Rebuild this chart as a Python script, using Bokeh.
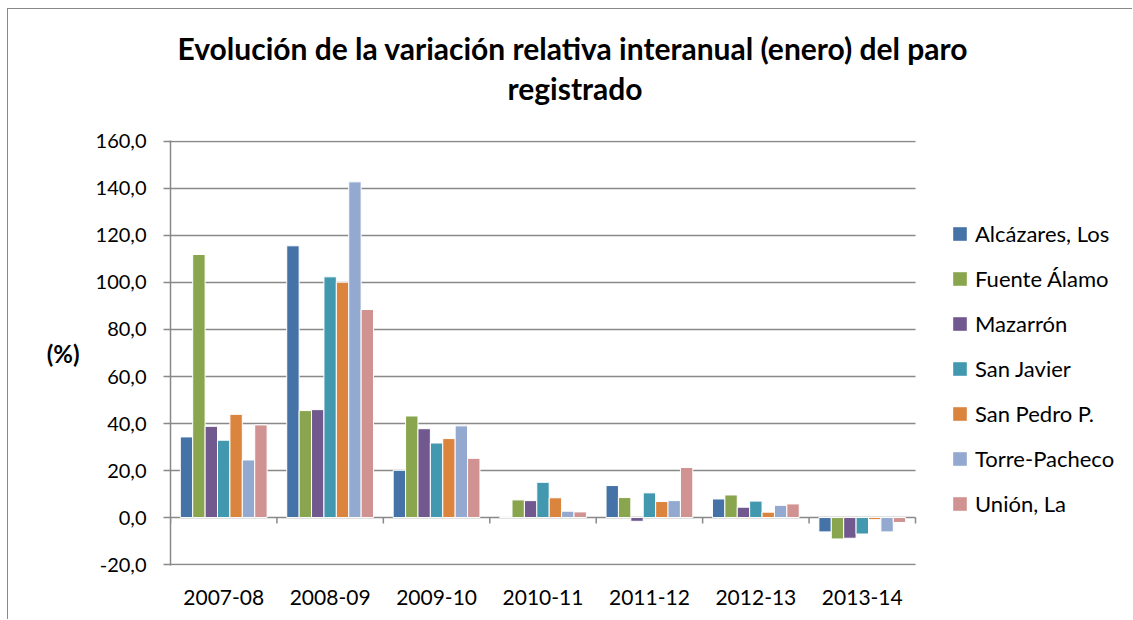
from bokeh.plotting import figure
from bokeh.models import Range1d, FixedTicker, Legend, LegendItem, Title
from bokeh.embed import file_html
from bokeh.resources import INLINE

categories = ["2007-08", "2008-09", "2009-10", "2010-11", "2011-12", "2012-13", "2013-14"]
series_names = ["Alcázares, Los", "Fuente Álamo", "Mazarrón", "San Javier",
                "San Pedro P.", "Torre-Pacheco", "Unión, La"]
alcazares = [34.3, 115.6, 20.1, 0.4, 13.6, 7.9, -6.1]
fuente_alamo = [111.9, 45.5, 43.2, 7.5, 8.5, 9.6, -9.1]
mazarron = [38.8, 45.9, 37.8, 7.2, -1.6, 4.4, -8.8]
san_javier = [32.9, 102.4, 31.7, 15.0, 10.5, 7.0, -7.0]
san_pedro = [43.9, 100.1, 33.6, 8.4, 6.8, 2.3, -0.9]
torre_pacheco = [24.5, 142.8, 39.0, 2.7, 7.2, 5.2, -6.1]
union_la = [39.4, 88.5, 25.2, 2.4, 21.3, 5.8, -2.1]
series_values = [alcazares, fuente_alamo, mazarron, san_javier, san_pedro, torre_pacheco, union_la]
colors = ["#4572A7", "#89A54E", "#71588F", "#4198AF", "#DB843D", "#93A9CF", "#D19392"]
y_ticks = [-20, 0, 20, 40, 60, 80, 100, 120, 140, 160]
y_tick_labels = ["-20,0", "0,0", "20,0", "40,0", "60,0", "80,0", "100,0", "120,0", "140,0", "160,0"]

FONT = "Lato"
GRID = "#898989"

# layout (pixels)
W, H = 1125, 611
LEFT, TOP, BOTTOM = 162, 131, 55
plot_w = 745                     # width taken by the categories
frame_w = W - LEFT               # frame runs to the right edge so the legend sits inside
ncat = len(categories)
x_end = ncat * frame_w / plot_w

p = figure(width=W, height=H, output_backend="svg", toolbar_location=None,
           x_range=Range1d(0, x_end), y_range=Range1d(-20.4, 160.4),
           min_border_left=LEFT, min_border_right=0, min_border_top=TOP, min_border_bottom=BOTTOM)
p.styles = {"margin-left": "7px", "margin-top": "8px",
            "border-left": "1px solid #898989", "border-top": "1px solid #898989"}
p.outline_line_color = None
p.background_fill_color = "white"
p.border_fill_color = "white"

# horizontal gridlines limited to the category area
p.segment(x0=[0] * len(y_ticks), y0=y_ticks, x1=[ncat] * len(y_ticks), y1=y_ticks,
          line_color=GRID, line_width=1.5)

n = len(series_names)
w = 0.1165
items = []
nan = float("nan")
for j, (name, vals, col) in enumerate(zip(series_names, series_values, colors)):
    xs = [i + 0.5 + (j - (n - 1) / 2) * w for i in range(ncat)]
    p.vbar(x=xs, top=vals, bottom=0, width=w, fill_color=col, line_color="white", line_width=1)
    key = p.quad(left=[nan], right=[nan], top=[nan], bottom=[nan], fill_color=col, line_color=None)
    items.append(LegendItem(label=name, renderers=[key]))

# category axis tick marks at y=0
bounds = list(range(ncat + 1))
p.segment(x0=bounds, y0=[0] * len(bounds), x1=bounds, y1=[-2.5] * len(bounds),
          line_color=GRID, line_width=1.5)

# y axis
p.yaxis.ticker = FixedTicker(ticks=y_ticks)
p.yaxis.major_label_overrides = {t: l for t, l in zip(y_ticks, y_tick_labels)}
p.yaxis.major_label_text_font = FONT
p.yaxis.major_label_text_font_size = "20px"
p.yaxis.major_label_text_color = "black"
p.yaxis.axis_line_color = GRID
p.yaxis.axis_line_width = 1.5
p.yaxis.major_tick_line_color = GRID
p.yaxis.major_tick_line_width = 1.5
p.yaxis.major_tick_out = 7
p.yaxis.major_tick_in = 0
p.yaxis.minor_tick_line_color = None
p.yaxis.major_label_standoff = 17
p.yaxis.axis_label = "(%)"
p.yaxis.axis_label_orientation = "horizontal"
p.yaxis.axis_label_text_font = FONT
p.yaxis.axis_label_text_font_style = "bold"
p.yaxis.axis_label_text_font_size = "24px"
p.yaxis.axis_label_text_color = "black"
p.yaxis.axis_label_standoff = 13

# x axis
p.xaxis.ticker = FixedTicker(ticks=[i + 0.5 for i in range(ncat)])
p.xaxis.major_label_overrides = {i + 0.5: c for i, c in enumerate(categories)}
p.xaxis.major_label_text_font = FONT
p.xaxis.major_label_text_font_size = "21px"
p.xaxis.major_label_text_color = "black"
p.xaxis.axis_line_color = None
p.xaxis.major_tick_line_color = None
p.xaxis.minor_tick_line_color = None
p.xaxis.major_label_standoff = 18

p.xgrid.grid_line_color = None
p.ygrid.grid_line_color = None

legend = Legend(items=items, location=(781, 48), padding=0, margin=0, spacing=18,
                glyph_width=17, glyph_height=17, label_height=27, label_standoff=7,
                label_text_font=FONT, label_text_font_size="22px", label_text_color="black",
                label_text_baseline="middle",
                border_line_color=None, background_fill_alpha=0)
p.add_layout(legend, "center")

p.add_layout(Title(text=" ", text_font_size="12px", standoff=17), "above")
p.add_layout(Title(text="registrado", align="left", offset=337, text_font=FONT,
                   text_font_style="bold", text_font_size="30px", text_color="black",
                   standoff=4), "above")
p.add_layout(Title(text="Evolución de la variación relativa interanual (enero) del paro",
                   align="left", offset=7, text_font=FONT, text_font_style="bold",
                   text_font_size="30px", text_color="black", standoff=0), "above")

open("out.html", "w").write(file_html(p, INLINE))
